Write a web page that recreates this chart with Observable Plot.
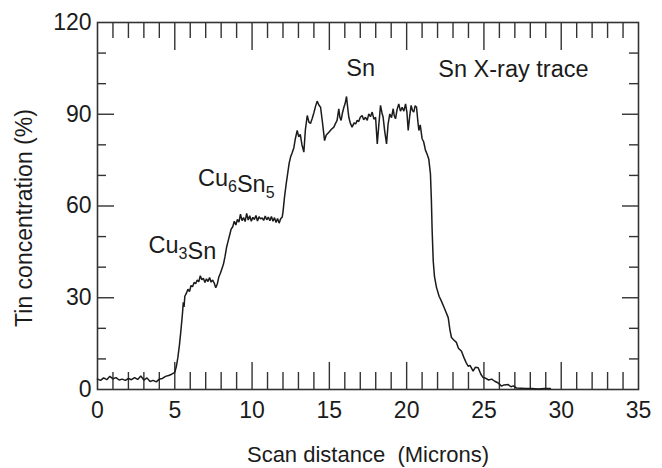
<!DOCTYPE html>
<html>
<head>
<meta charset="utf-8">
<script src="https://cdn.jsdelivr.net/npm/d3@7"></script>
<script src="https://cdn.jsdelivr.net/npm/@observablehq/plot@0.6"></script>
<style>
  html, body { margin: 0; padding: 0; background: #fff; }
  #chart { width: 662px; height: 468px; }
</style>
</head>
<body>
<div id="chart"></div>
<script>
// Sn X-ray line scan across the Cu / Cu3Sn / Cu6Sn5 / Sn joint
const distance = [
  0, 0.2, 0.4, 0.6, 0.8, 1.0, 1.2, 1.4, 1.6, 1.8, 2.0, 2.2, 2.4, 2.6, 2.8, 3.0, 3.2, 3.4, 3.6, 3.8,
  4.0, 4.2, 4.4, 4.6, 4.8, 5.0,
  5.1, 5.2, 5.3, 5.4, 5.5, 5.55, 5.6, 5.65, 5.75, 5.85, 5.95, 6.05, 6.15, 6.25, 6.35,
  6.45, 6.55, 6.65, 6.75, 6.85, 6.95, 7.05, 7.15, 7.25, 7.35, 7.45, 7.55, 7.65, 7.75, 7.85,
  7.95, 8.05, 8.15, 8.25, 8.35, 8.45, 8.55, 8.65, 8.75, 8.85,
  8.95, 9.05, 9.15, 9.25, 9.35, 9.45, 9.55, 9.65, 9.75, 9.85, 9.95, 10.05, 10.15, 10.25, 10.35,
  10.45, 10.55, 10.65, 10.75, 10.85, 10.95, 11.05, 11.15, 11.25, 11.35, 11.45, 11.55, 11.65, 11.75,
  11.85, 11.95,
  12.0, 12.1, 12.2, 12.3, 12.4, 12.49, 12.6, 12.7, 12.8, 12.92, 13.02, 13.12, 13.22, 13.35, 13.45,
  13.57, 13.68, 13.78, 13.89, 14.0, 14.1, 14.21, 14.32, 14.43, 14.55, 14.69, 14.8, 14.97, 15.12,
  15.29, 15.4, 15.5, 15.61, 15.68, 15.76, 15.85, 15.94, 16.02, 16.11, 16.2, 16.26, 16.36, 16.47,
  16.6, 16.7, 16.8, 16.9, 17.0, 17.12, 17.22, 17.34, 17.45, 17.55, 17.66, 17.77, 17.88, 17.99,
  18.1, 18.2, 18.31, 18.4, 18.48, 18.58, 18.7, 18.8, 18.91, 19.02, 19.13, 19.2, 19.28, 19.38,
  19.49, 19.6, 19.71, 19.82, 19.93, 20.02, 20.1, 20.2, 20.29, 20.38, 20.46, 20.55, 20.64, 20.72,
  20.79, 20.88, 21.0, 21.1, 21.22, 21.32, 21.43, 21.54, 21.6, 21.65, 21.72,
  21.8, 21.93, 22.1, 22.25, 22.45, 22.69, 22.8, 22.9, 23.05, 23.22, 23.35, 23.55, 23.7, 23.85,
  23.98, 24.1, 24.3, 24.45, 24.63, 24.8, 24.95, 25.1, 25.3, 25.5, 25.7, 25.9, 26.14, 26.3, 26.57,
  26.75, 26.9, 27.1, 27.4, 27.7, 28.1, 28.5, 28.9, 29.3
];
const tin = [
  3.4, 3.0, 3.8, 3.2, 4.3, 3.5, 3.9, 3.1, 3.4, 3.0, 3.6, 3.2, 3.9, 3.3, 4.4, 3.1, 3.8, 2.6, 3.0, 2.5,
  3.4, 3.6, 4.3, 4.6, 5.0, 5.6,
  7.5, 10.5, 14.5, 19.5, 25.0, 28.5, 27.0, 30.5, 31.5, 32.8, 32.0, 34.0, 33.6, 35.0, 34.6,
  35.8, 35.2, 37.2, 35.9, 36.4, 35.0, 36.2, 35.3, 36.6, 35.1, 35.8, 34.8, 33.3, 34.5, 36.8,
  38.0, 39.5, 41.0, 43.5, 46.5, 48.5, 50.5, 52.5, 53.2, 55.0,
  53.8, 55.6, 54.7, 57.3, 55.2, 56.2, 54.9, 57.6, 55.4, 56.8, 55.0, 56.3, 55.6, 56.9, 55.1,
  56.5, 55.8, 56.1, 55.3, 56.7, 55.5, 56.4, 55.2, 56.6, 55.0, 56.2, 54.6, 55.9, 54.4,
  55.8, 56.4,
  58.0, 63.0, 67.0, 70.5, 74.0, 76.0, 77.5, 79.0, 82.0, 84.7, 82.6, 83.4, 80.2, 77.6, 85.0,
  89.6, 87.4, 87.0, 88.6, 90.5, 92.5, 94.3, 93.0, 92.3, 87.5, 81.4, 83.2, 84.1, 85.0,
  85.8, 87.0, 88.0, 91.8, 89.0, 88.0, 90.5, 92.3, 93.5, 95.8, 91.5, 89.0, 87.0, 85.8,
  87.2, 86.8, 88.0, 87.6, 89.0, 89.6, 88.2, 89.0, 88.0, 90.1, 89.2, 90.7, 88.4, 89.0,
  80.3, 86.5, 92.9, 90.5, 89.0, 84.5, 80.3, 86.8, 90.1, 88.9, 91.8, 89.5, 88.5, 91.5,
  93.4, 91.0, 92.3, 91.0, 93.4, 90.5, 84.7, 89.5, 92.9, 91.2, 90.7, 92.8, 92.3, 88.0,
  84.7, 86.5, 82.0, 81.0, 78.2, 77.0, 75.4, 70.5, 62.0, 52.0, 42.0,
  37.0, 33.4, 30.5, 28.9, 26.5, 23.5, 19.5, 17.0, 16.2, 15.4, 13.5, 12.5, 10.5, 8.8,
  7.6, 7.9, 6.0, 7.3, 7.1, 5.0, 3.9, 3.7, 3.1, 3.4, 2.7, 2.2, 1.1, 1.5, 1.6,
  0.9, 1.2, 0.5, 0.4, 0.3, 0.3, 0.2, 0.3, 0.3
];

// Axis tick values
const xTickLabels = [0, 5, 10, 15, 20, 25, 30, 35];
const xTicks = d3.range(1, 35);
const yTickLabels = [0, 30, 60, 90, 120];
const yTicks = d3.range(10, 120, 10);

// Phase annotations
const phaseNames = ["Cu3Sn", "Cu6Sn5", "Sn", "Sn X-ray trace"];
const phaseX = [3.3, 6.5, 16.1, 22.05];
const phaseY = [47, 69, 105, 104.6];

const xTitle = "Scan distance  (Microns)";
const yTitle = "Tin concentration (%)";

const W = 662, H = 468;
const mL = 97, mR = 24, mT = 22, mB = 79;
const innerH = H - mT - mB;
const innerW = W - mL - mR;

const scan = distance.map((d, i) => ({distance: d, tin: tin[i]}));
const phases = phaseNames.map((name, i) => ({name, x: phaseX[i], y: phaseY[i]}));

const ink = "#1b1b1b";
const axisInk = "#333";
const isMajorX = (d) => d % 5 === 0;
const isMajorY = (d) => d % 30 === 0;

const chart = Plot.plot({
  width: W,
  height: H,
  marginLeft: mL,
  marginRight: mR,
  marginTop: mT,
  marginBottom: mB,
  x: {domain: [0, 35]},
  y: {domain: [0, 120]},
  style: {
    fontFamily: "'Liberation Sans', Arial, Helvetica, sans-serif",
    fontSize: "22px",
    color: ink,
    background: "#fff"
  },
  marks: [
    // inward ticks on the bottom edge
    Plot.tickX(xTicks.filter(d => !isMajorX(d)), {x: d => d, stroke: axisInk, strokeWidth: 1.4, insetTop: innerH - 17}),
    Plot.tickX(xTicks.filter(isMajorX), {x: d => d, stroke: axisInk, strokeWidth: 1.4, insetTop: innerH - 27}),
    // inward ticks on the top edge
    Plot.tickX(xTicks.filter(d => !isMajorX(d)), {x: d => d, stroke: axisInk, strokeWidth: 1.4, insetBottom: innerH - 16}),
    Plot.tickX(xTicks.filter(isMajorX), {x: d => d, stroke: axisInk, strokeWidth: 1.4, insetBottom: innerH - 28}),
    // inward ticks on the left edge
    Plot.tickY(yTicks.filter(d => !isMajorY(d)), {y: d => d, stroke: axisInk, strokeWidth: 1.4, insetRight: innerW - 9}),
    Plot.tickY(yTicks.filter(isMajorY), {y: d => d, stroke: axisInk, strokeWidth: 1.4, insetRight: innerW - 17}),
    // inward ticks on the right edge
    Plot.tickY(yTicks.filter(d => !isMajorY(d)), {y: d => d, stroke: axisInk, strokeWidth: 1.4, insetLeft: innerW - 9}),
    Plot.tickY(yTicks.filter(isMajorY), {y: d => d, stroke: axisInk, strokeWidth: 1.4, insetLeft: innerW - 16}),
    Plot.frame({stroke: axisInk, strokeWidth: 1.6}),
    Plot.axisX({ticks: xTickLabels, tickSize: 0, tickPadding: 12, label: null, fontSize: 23}),
    Plot.axisY({ticks: yTickLabels, tickSize: 0, tickPadding: 6, label: null, fontSize: 23}),
    // axis titles
    Plot.text([xTitle], {frameAnchor: "bottom", dy: 72, fontSize: 22, fill: ink}),
    Plot.text([yTitle], {frameAnchor: "left", textAnchor: "middle", rotate: -90, dx: -73, dy: 12, fontSize: 23, fill: ink}),
    // the trace
    Plot.line(scan, {x: "distance", y: "tin", stroke: ink, strokeWidth: 1.5, strokeLinejoin: "miter"}),
    // phase labels
    Plot.text(phases, {x: "x", y: "y", text: "name", textAnchor: "start", fontSize: 23.5, fill: ink})
  ]
});

// Render the stoichiometry digits as subscripts
chart.querySelectorAll("text").forEach(t => {
  const s = t.textContent;
  if (/^Cu\d/.test(s)) {
    t.innerHTML = s.replace(/(\d)(?=Sn|$)/g, '<tspan dy="6" font-size="16">$1</tspan><tspan dy="-6"></tspan>');
  }
});

document.getElementById("chart").appendChild(chart);
</script>
</body>
</html>
